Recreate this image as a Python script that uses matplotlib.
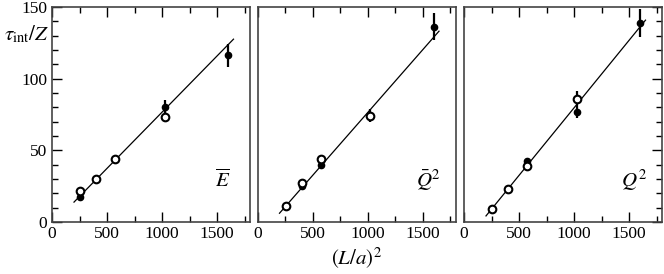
import matplotlib.pyplot as plt
from matplotlib.ticker import MultipleLocator

plt.rcParams['font.family'] = ['Liberation Serif', 'DejaVu Serif']
plt.rcParams['mathtext.fontset'] = 'stix'

# (L/a)^2 values
x_E_open = [256, 400, 576, 1024]
y_E_open = [21.5, 29.9, 44.0, 73.6]
e_E_open = [0, 0, 0, 3.8]
x_E_fill = [256, 1024, 1600]
y_E_fill = [17.6, 80.1, 116.4]
e_E_fill = [0, 5.2, 8.0]

x_Qb_open = [256, 400, 576, 1024]
y_Qb_open = [11.3, 27.5, 44.2, 74.3]
e_Qb_open = [0, 0, 0, 4.6]
x_Qb_fill = [400, 576, 1600]
y_Qb_fill = [25.0, 40.0, 136.3]
e_Qb_fill = [0, 0, 9.5]

x_Q_open = [256, 400, 576, 1024]
y_Q_open = [9.0, 22.7, 39.1, 85.6]
e_Q_open = [0, 0, 0, 5.5]
x_Q_fill = [576, 1024, 1600]
y_Q_fill = [42.4, 76.4, 138.9]
e_Q_fill = [0, 4.0, 9.6]

# linear fits: slope, intercept, range
fit_E = (0.0784, -1.8)
fit_Qb = (0.0876, -11.4)
fit_Q = (0.0942, -14.6)
fit_x = [200, 1650]

panels = [
    (x_E_open, y_E_open, e_E_open, x_E_fill, y_E_fill, e_E_fill, fit_E, r'$\overline{E}$'),
    (x_Qb_open, y_Qb_open, e_Qb_open, x_Qb_fill, y_Qb_fill, e_Qb_fill, fit_Qb, r'$\bar{Q}^{2}$'),
    (x_Q_open, y_Q_open, e_Q_open, x_Q_fill, y_Q_fill, e_Q_fill, fit_Q, r'$Q^2$'),
]

fig = plt.figure(figsize=(6.64, 2.74), dpi=100)
lefts = [52 / 664, 257.5 / 664, 464 / 664]
w = 198 / 664
b = 1 - 222 / 274
h = 215 / 274

for i, (xo, yo, eo, xf, yf, ef, fit, lab) in enumerate(panels):
    ax = fig.add_axes([lefts[i], b, w, h])
    ax.plot(fit_x, [fit[0] * v + fit[1] for v in fit_x], color='black', lw=0.9, zorder=1)
    ax.errorbar(xf, yf, yerr=ef, fmt='o', ms=4.5, color='black', mfc='black',
                elinewidth=1.6, capsize=0, zorder=2)
    ax.errorbar(xo, yo, yerr=eo, fmt='o', ms=5.5, color='black', mfc='white',
                mew=1.5, elinewidth=1.6, capsize=0, zorder=3)
    ax.text(1550, 29, lab, fontsize=15, ha='center', va='center')

    ax.set_xlim(0, 1800)
    ax.set_ylim(0, 150)
    ax.xaxis.set_major_locator(MultipleLocator(500))
    ax.xaxis.set_minor_locator(MultipleLocator(250))
    ax.yaxis.set_major_locator(MultipleLocator(50))
    ax.yaxis.set_minor_locator(MultipleLocator(10))
    ax.tick_params(which='both', direction='in', top=True, bottom=True,
                   left=(i == 0), right=(i == 2), labelleft=(i == 0), labelsize=12.5,
                   width=1)
    ax.tick_params(which='major', length=7)
    ax.tick_params(which='minor', length=4)
    ax.tick_params(axis='x', pad=3)
    for s in ax.spines.values():
        s.set_linewidth(1.2)
        s.set_color('#444444')
    if i == 0:
        ax.set_ylabel(r'$\tau_{\rm int}/Z$', fontsize=15, rotation=0)
        ax.yaxis.set_label_coords(-0.13, 0.82)
    if i == 1:
        ax.set_xlabel(r'$(L/a)^2$', fontsize=15, labelpad=3)

fig.savefig('out.png', dpi=100)
